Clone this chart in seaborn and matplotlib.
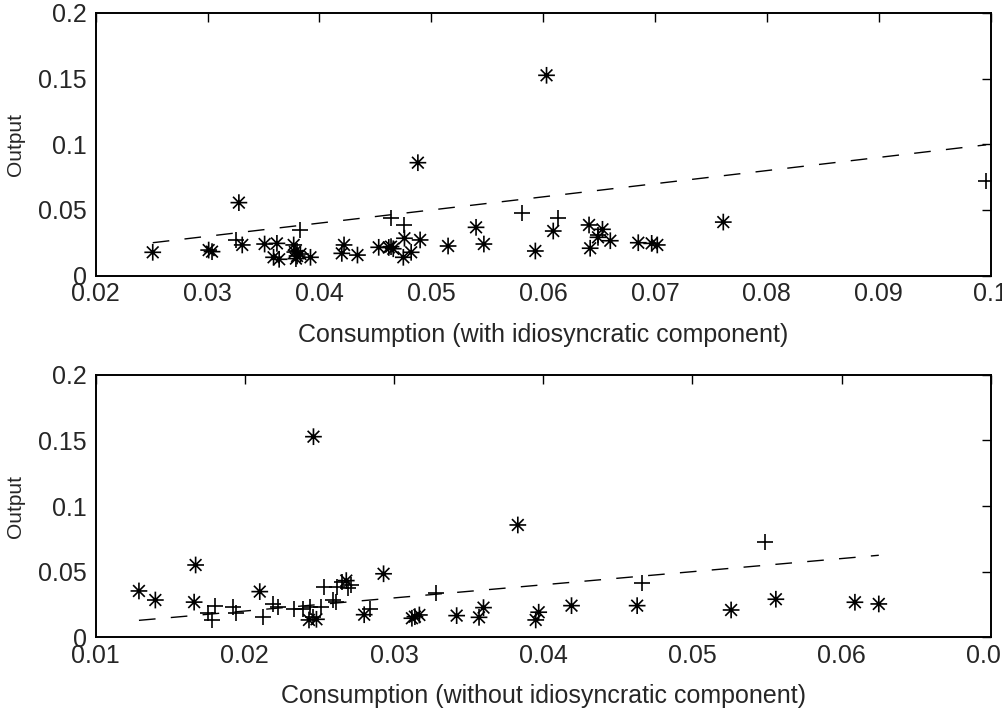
import matplotlib
matplotlib.use("Agg")
import matplotlib.pyplot as plt
from matplotlib.path import Path
import numpy as np
import pandas as pd
import seaborn as sns

# top panel: consumption with idiosyncratic component
top_star_x = [0.0251, 0.0301, 0.0304, 0.0328, 0.0331, 0.0351, 0.0362, 0.0359, 0.0364,
              0.0377, 0.0378, 0.0380, 0.0383, 0.0379, 0.0392, 0.0422, 0.0420, 0.0434,
              0.0453, 0.0462, 0.0464, 0.0466, 0.0476, 0.0475, 0.0482, 0.0490, 0.0488,
              0.0603, 0.0515, 0.0540, 0.0547, 0.0593, 0.0609, 0.0641, 0.0653, 0.0649,
              0.0642, 0.0660, 0.0685, 0.0697, 0.0702, 0.0761]
top_star_y = [0.0178, 0.0195, 0.0183, 0.0556, 0.0234, 0.0241, 0.0246, 0.0140, 0.0125,
              0.0234, 0.0180, 0.0150, 0.0165, 0.0130, 0.0140, 0.0234, 0.0170, 0.0157,
              0.0216, 0.0215, 0.0221, 0.0205, 0.0285, 0.0140, 0.0178, 0.0272, 0.0860,
              0.1525, 0.0226, 0.0368, 0.0241, 0.0188, 0.0340, 0.0386, 0.0353, 0.0292,
              0.0209, 0.0266, 0.0251, 0.0246, 0.0234, 0.0408]
top_plus_x = [0.0325, 0.0383, 0.0380, 0.0464, 0.0476, 0.0581, 0.0613, 0.0649, 0.0996]
top_plus_y = [0.0272, 0.0348, 0.0190, 0.0437, 0.0386, 0.0479, 0.0437, 0.0310, 0.0721]

# bottom panel: consumption without idiosyncratic component
bot_star_x = [0.0129, 0.0140, 0.0167, 0.0166, 0.0210, 0.0243, 0.0248, 0.0246, 0.0268,
              0.0280, 0.0293, 0.0312, 0.0314, 0.0317, 0.0342, 0.0360, 0.0357, 0.0383,
              0.0397, 0.0395, 0.0419, 0.0463, 0.0526, 0.0556, 0.0609, 0.0625]
bot_star_y = [0.0353, 0.0284, 0.0551, 0.0268, 0.0348, 0.0132, 0.0137, 0.1529, 0.0432,
              0.0172, 0.0484, 0.0145, 0.0157, 0.0170, 0.0165, 0.0226, 0.0152, 0.0856,
              0.0191, 0.0132, 0.0241, 0.0241, 0.0208, 0.0290, 0.0267, 0.0254]
bot_plus_x = [0.0175, 0.0178, 0.0180, 0.0192, 0.0194, 0.0212, 0.0219, 0.0222, 0.0233,
              0.0239, 0.0244, 0.0246, 0.0251, 0.0253, 0.0261, 0.0262, 0.0265, 0.0271,
              0.0269, 0.0284, 0.0328, 0.0466, 0.0549, 0.0259]
bot_plus_y = [0.0183, 0.0132, 0.0239, 0.0229, 0.0183, 0.0157, 0.0254, 0.0229, 0.0213,
              0.0213, 0.0233, 0.0157, 0.0229, 0.0386, 0.0271, 0.0386, 0.0424, 0.0395,
              0.0378, 0.0213, 0.0340, 0.0412, 0.0729, 0.0284]

top_xticks = [0.02, 0.03, 0.04, 0.05, 0.06, 0.07, 0.08, 0.09, 0.1]
top_xlabels = ["0.02", "0.03", "0.04", "0.05", "0.06", "0.07", "0.08", "0.09", "0.1"]
bot_xticks = [0.01, 0.02, 0.03, 0.04, 0.05, 0.06, 0.07]
bot_xlabels = ["0.01", "0.02", "0.03", "0.04", "0.05", "0.06", "0.07"]
yticks = [0, 0.05, 0.1, 0.15, 0.2]
ylabels = ["0", "0.05", "0.1", "0.15", "0.2"]

sns.set_style("white")
plt.rcParams["font.family"] = ["Liberation Sans", "DejaVu Sans"]

# matlab-like asterisk: plus with a smaller x on top
d = 0.7
asterisk = Path(
    [(0, -1), (0, 1), (-1, 0), (1, 0), (-d, -d), (d, d), (-d, d), (d, -d)],
    [Path.MOVETO, Path.LINETO] * 4,
)

fig = plt.figure(figsize=(10.03, 7.08), dpi=100)
ax1 = fig.add_axes([0.0954, 0.6106, 0.8923, 0.3712])
ax2 = fig.add_axes([0.0954, 0.0999, 0.8923, 0.3706])


def panel(ax, sx, sy, px, py, xticks, xlabels, xlim, xlabel):
    star_df = pd.DataFrame({"x": sx, "y": sy})
    plus_df = pd.DataFrame({"x": px, "y": py})
    sns.scatterplot(data=star_df, x="x", y="y", marker=asterisk, s=145,
                    color="k", edgecolor="k", facecolor="none", linewidth=1.2,
                    ax=ax, zorder=3)
    sns.scatterplot(data=plus_df, x="x", y="y", marker="+", s=145,
                    color="k", linewidth=1.2, ax=ax, zorder=3)

    # 45 degree reference line over the range of the data
    allx = np.array(list(sx) + list(px))
    line_df = pd.DataFrame({"x": [allx.min(), allx.max()],
                            "y": [allx.min(), allx.max()]})
    sns.lineplot(data=line_df, x="x", y="y", color="k", linewidth=1.0,
                 linestyle=(0, (12, 11)), ax=ax, zorder=2)

    ax.set_xlim(xlim)
    ax.set_ylim(0, 0.2)
    ax.set_xticks(xticks)
    ax.set_xticklabels(xlabels)
    ax.set_yticks(yticks)
    ax.set_yticklabels(ylabels)
    ax.tick_params(direction="in", length=6.5, width=1, top=True, right=True,
                   labelsize=18, color="k")
    ax.tick_params(axis="x", pad=4.5)
    ax.tick_params(axis="y", pad=6.5)
    for sp in ax.spines.values():
        sp.set_visible(True)
        sp.set_color("k")
        sp.set_linewidth(1.4)
    ax.set_xlabel(xlabel, fontsize=18, labelpad=12)
    ax.set_ylabel("Output", fontsize=15, labelpad=9)
    ax.grid(False)


panel(ax1, top_star_x, top_star_y, top_plus_x, top_plus_y,
      top_xticks, top_xlabels, (0.02, 0.1),
      "Consumption (with idiosyncratic component)")
panel(ax2, bot_star_x, bot_star_y, bot_plus_x, bot_plus_y,
      bot_xticks, bot_xlabels, (0.01, 0.07),
      "Consumption (without idiosyncratic component)")

fig.savefig("out.png", dpi=100)
